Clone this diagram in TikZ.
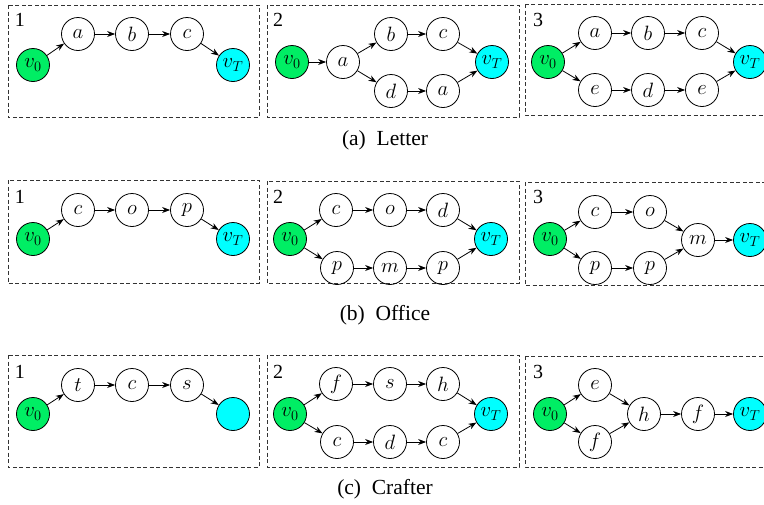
\documentclass[tikz,border=0pt]{standalone}
\usepackage[no-math]{fontspec}
\setmainfont{Liberation Serif}
\usetikzlibrary{arrows.meta}
\definecolor{vgreen}{RGB}{0,238,100}
\definecolor{vcyan}{RGB}{0,255,255}
\begin{document}
\begin{tikzpicture}[x=1pt,y=-1pt,
  st/.style={circle,draw,line width=0.8pt,minimum size=33pt,inner sep=0pt,font=\fontsize{22pt}{26pt}\selectfont},
  start/.style={st,fill=vgreen},
  goal/.style={st,fill=vcyan},
  ar/.style={-{Stealth[length=8pt,width=6pt]},line width=0.8pt},
  panel/.style={draw=black!80,line width=0.9pt,dash pattern=on 4pt off 2.5pt},
  num/.style={font=\fontsize{20pt}{24pt}\selectfont},
  captxt/.style={font=\fontsize{21.5pt}{26pt}\selectfont}]
\useasboundingbox (0,0) rectangle (764,504);
% ---------- row a ----------
\draw[panel] (8,5) rectangle (259,117);
\draw[panel] (267,5) rectangle (519,117);
\draw[panel] (525,4) rectangle (770,115);
\node[num] (an1) at (20,20) {1};
\node[num] (an2) at (278,20) {2};
\node[num] (an3) at (538,20) {3};
% panel 1
\node[start] (a1v0) at (33,65) {$v_0$};
\node[st] (a1a) at (78,34) {$a$};
\node[st] (a1b) at (132,34) {$b$};
\node[st] (a1c) at (187,34) {$c$};
\node[goal] (a1vT) at (233,65) {$v_T$};
\draw[ar] (a1v0) -- (a1a);
\draw[ar] (a1a) -- (a1b);
\draw[ar] (a1b) -- (a1c);
\draw[ar] (a1c) -- (a1vT);
% panel 2
\node[start] (a2v0) at (292,62) {$v_0$};
\node[st] (a2a) at (343,62) {$a$};
\node[st] (a2b) at (391,34) {$b$};
\node[st] (a2c) at (443,34) {$c$};
\node[st] (a2d) at (391,91) {$d$};
\node[st] (a2a2) at (443,91) {$a$};
\node[goal] (a2vT) at (492,62) {$v_T$};
\draw[ar] (a2v0) -- (a2a);
\draw[ar] (a2a) -- (a2b);
\draw[ar] (a2a) -- (a2d);
\draw[ar] (a2b) -- (a2c);
\draw[ar] (a2d) -- (a2a2);
\draw[ar] (a2c) -- (a2vT);
\draw[ar] (a2a2) -- (a2vT);
% panel 3
\node[start] (a3v0) at (548,62) {$v_0$};
\node[st] (a3a) at (595,33) {$a$};
\node[st] (a3b) at (648,33) {$b$};
\node[st] (a3c) at (702,33) {$c$};
\node[st] (a3e) at (595,90) {$e$};
\node[st] (a3d) at (648,90) {$d$};
\node[st] (a3e2) at (702,90) {$e$};
\node[goal] (a3vT) at (750,62) {$v_T$};
\draw[ar] (a3v0) -- (a3a);
\draw[ar] (a3a) -- (a3b);
\draw[ar] (a3b) -- (a3c);
\draw[ar] (a3c) -- (a3vT);
\draw[ar] (a3v0) -- (a3e);
\draw[ar] (a3e) -- (a3d);
\draw[ar] (a3d) -- (a3e2);
\draw[ar] (a3e2) -- (a3vT);
\node[captxt] (capa) at (385,140) {(a)\enspace Letter};
% ---------- row b ----------
\draw[panel] (8,180) rectangle (259,283);
\draw[panel] (267,181) rectangle (519,283);
\draw[panel] (525,182) rectangle (770,285);
\node[num] (bn1) at (20,197) {1};
\node[num] (bn2) at (278,197) {2};
\node[num] (bn3) at (538,197) {3};
% panel 1
\node[start] (b1v0) at (33,239) {$v_0$};
\node[st] (b1c) at (78,210) {$c$};
\node[st] (b1o) at (132,210) {$o$};
\node[st] (b1p) at (187,210) {$p$};
\node[goal] (b1vT) at (233,239) {$v_T$};
\draw[ar] (b1v0) -- (b1c);
\draw[ar] (b1c) -- (b1o);
\draw[ar] (b1o) -- (b1p);
\draw[ar] (b1p) -- (b1vT);
% panel 2
\node[start] (b2v0) at (290,239) {$v_0$};
\node[st] (b2c) at (336,210) {$c$};
\node[st] (b2o) at (390,210) {$o$};
\node[st] (b2d) at (443,210) {$d$};
\node[st] (b2p) at (337,268) {$p$};
\node[st] (b2m) at (390,268) {$m$};
\node[st] (b2p2) at (443,268) {$p$};
\node[goal] (b2vT) at (491,239) {$v_T$};
\draw[ar] (b2v0) -- (b2c);
\draw[ar] (b2c) -- (b2o);
\draw[ar] (b2o) -- (b2d);
\draw[ar] (b2d) -- (b2vT);
\draw[ar] (b2v0) -- (b2p);
\draw[ar] (b2p) -- (b2m);
\draw[ar] (b2m) -- (b2p2);
\draw[ar] (b2p2) -- (b2vT);
% panel 3
\node[start] (b3v0) at (550,239) {$v_0$};
\node[st] (b3c) at (595,212) {$c$};
\node[st] (b3o) at (650,212) {$o$};
\node[st] (b3p) at (595,268) {$p$};
\node[st] (b3p2) at (650,268) {$p$};
\node[st] (b3m) at (698,240) {$m$};
\node[goal] (b3vT) at (750,240) {$v_T$};
\draw[ar] (b3v0) -- (b3c);
\draw[ar] (b3c) -- (b3o);
\draw[ar] (b3o) -- (b3m);
\draw[ar] (b3v0) -- (b3p);
\draw[ar] (b3p) -- (b3p2);
\draw[ar] (b3p2) -- (b3m);
\draw[ar] (b3m) -- (b3vT);
\node[captxt] (capb) at (385,315) {(b)\enspace Office};
% ---------- row c ----------
\draw[panel] (8,355) rectangle (259,467);
\draw[panel] (267,355) rectangle (519,467);
\draw[panel] (525,356) rectangle (770,467);
\node[num] (cn1) at (20,372) {1};
\node[num] (cn2) at (278,372) {2};
\node[num] (cn3) at (538,372) {3};
% panel 1
\node[start] (c1v0) at (33,414) {$v_0$};
\node[st] (c1t) at (78,385) {$t$};
\node[st] (c1c) at (132,385) {$c$};
\node[st] (c1s) at (187,385) {$s$};
\node[goal] (c1vT) at (233,414) {};
\draw[ar] (c1v0) -- (c1t);
\draw[ar] (c1t) -- (c1c);
\draw[ar] (c1c) -- (c1s);
\draw[ar] (c1s) -- (c1vT);
% panel 2
\node[start] (c2v0) at (290,414) {$v_0$};
\node[st] (c2f) at (336,384) {$f$};
\node[st] (c2s) at (390,384) {$s$};
\node[st] (c2h) at (443,384) {$h$};
\node[st] (c2c) at (337,442) {$c$};
\node[st] (c2d) at (390,442) {$d$};
\node[st] (c2c2) at (443,442) {$c$};
\node[goal] (c2vT) at (491,414) {$v_T$};
\draw[ar] (c2v0) -- (c2f);
\draw[ar] (c2f) -- (c2s);
\draw[ar] (c2s) -- (c2h);
\draw[ar] (c2h) -- (c2vT);
\draw[ar] (c2v0) -- (c2c);
\draw[ar] (c2c) -- (c2d);
\draw[ar] (c2d) -- (c2c2);
\draw[ar] (c2c2) -- (c2vT);
% panel 3
\node[start] (c3v0) at (550,414) {$v_0$};
\node[st] (c3e) at (595,385) {$e$};
\node[st] (c3f) at (595,442) {$f$};
\node[st] (c3h) at (644,414) {$h$};
\node[st] (c3f2) at (698,414) {$f$};
\node[goal] (c3vT) at (750,414) {$v_T$};
\draw[ar] (c3v0) -- (c3e);
\draw[ar] (c3v0) -- (c3f);
\draw[ar] (c3e) -- (c3h);
\draw[ar] (c3f) -- (c3h);
\draw[ar] (c3h) -- (c3f2);
\draw[ar] (c3f2) -- (c3vT);
\node[captxt] (capc) at (385,489) {(c)\enspace Crafter};
\end{tikzpicture}
\end{document}
